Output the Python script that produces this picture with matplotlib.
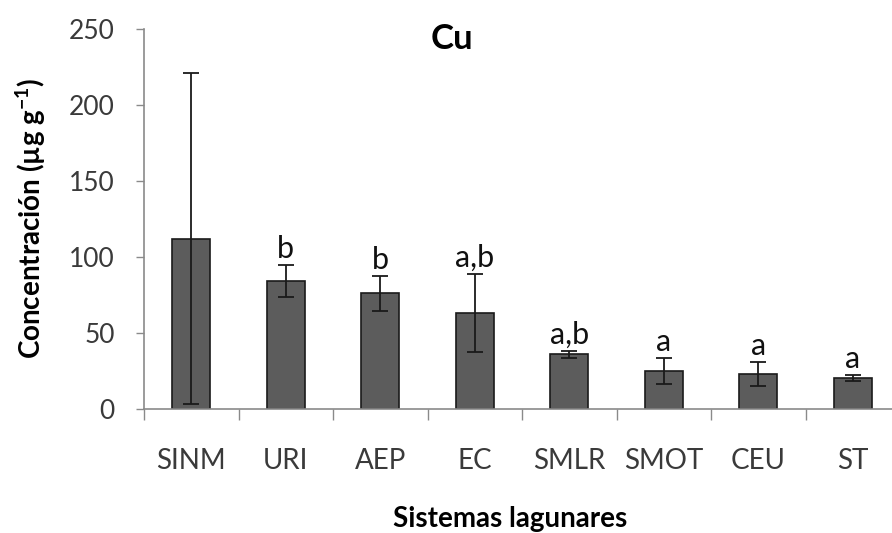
import matplotlib
matplotlib.use("Agg")
import matplotlib.pyplot as plt
import numpy as np

categories = ["SINM", "URI", "AEP", "EC", "SMLR", "SMOT", "CEU", "ST"]
means = [112, 84, 76, 63, 36, 25, 23, 20.5]
errors = [109, 10.5, 11.5, 25.5, 2.3, 8.5, 8.0, 1.8]
letters = ["", "b", "b", "a,b", "a,b", "a", "a", "a"]

plt.rcParams['font.family'] = ['Lato', 'DejaVu Sans']

fig = plt.figure(figsize=(8.92, 5.33), dpi=100)
ax = fig.add_axes([144/892, 1-409/533, 756/892, (409-28.7)/533])

x = np.arange(len(categories))
ax.bar(x, means, width=0.4, color='#5c5c5c', edgecolor='#1a1a1a', linewidth=1.2,
       yerr=errors, error_kw=dict(ecolor='#1a1a1a', elinewidth=1.3, capsize=6, capthick=1.3))

for xi, m, e, lab in zip(x, means, errors, letters):
    if lab:
        ax.text(xi, m + e + 1.5, lab, ha='center', va='bottom', fontsize=22, color='#111111')

ax.set_xlim(-0.5, len(categories) - 0.5)
ax.set_ylim(0, 250)
ax.set_yticks([0, 50, 100, 150, 200, 250])
ax.set_xticks(x)
ax.set_xticklabels(categories)
ax.set_xticks(np.arange(len(categories) + 1) - 0.5, minor=True)
ax.tick_params(axis='x', which='major', length=0, pad=28, labelsize=20, labelcolor='#3a3a3a')
ax.tick_params(axis='x', which='minor', length=8, width=1, color='#8a8a8a', direction='out')
ax.tick_params(axis='y', length=6, width=1, color='#8a8a8a', labelsize=19, labelcolor='#3a3a3a', pad=15)

for s in ['top', 'right']:
    ax.spines[s].set_visible(False)
for s in ['left', 'bottom']:
    ax.spines[s].set_color('#8a8a8a')
    ax.spines[s].set_linewidth(1.2)

fig.text(452/892, 1-39/533, "Cu", ha='center', va='center', fontsize=25, fontweight='bold')
fig.text(510/892, 1-519/533, "Sistemas lagunares", ha='center', va='center', fontsize=20, fontweight='bold')
fig.text(31/892, 1-218/533, "Concentración (µg g$^{\\mathregular{-1}}$)", ha='center', va='center',
         rotation=90, fontsize=20, fontweight='bold')

fig.savefig("out.png", dpi=100)
